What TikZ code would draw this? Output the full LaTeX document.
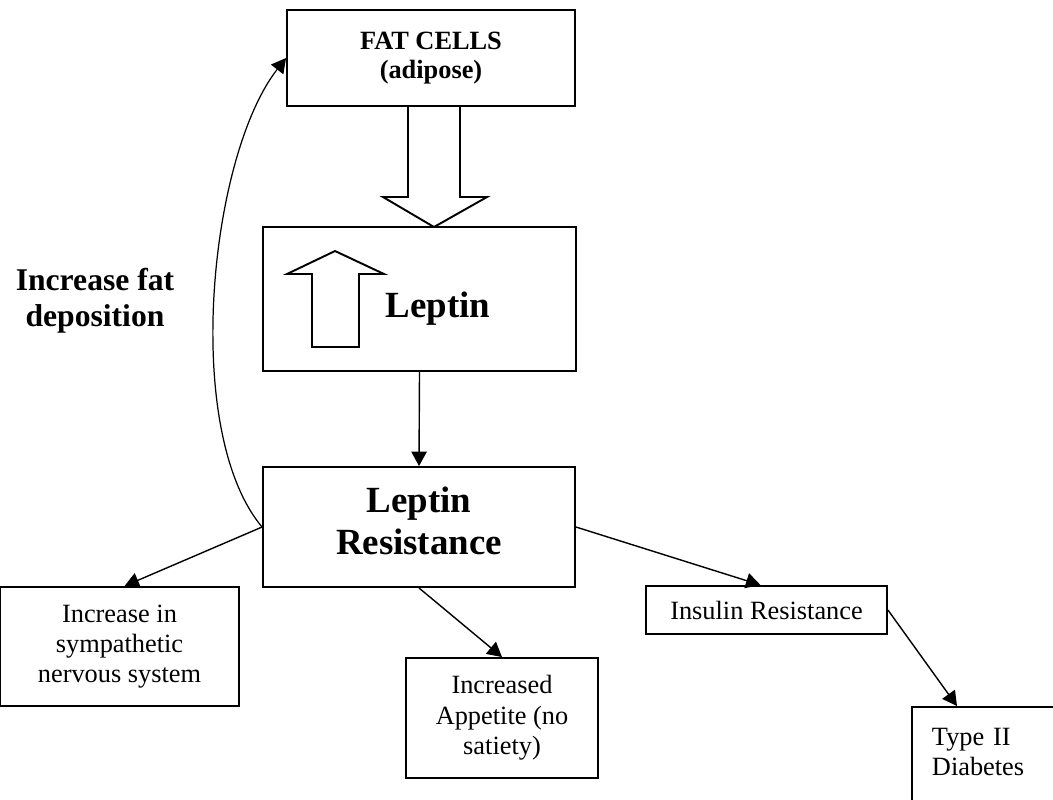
\documentclass[tikz,border=0pt]{standalone}
\usepackage{fontspec}
\setmainfont{Liberation Serif}
\usetikzlibrary{arrows.meta}
\tikzset{
  box/.style={
    rectangle,
    draw=black, line width=1.1pt,
    align=center,
    font=\fontsize{15}{17.3}\selectfont
  },
  title/.style={
    font=\bfseries\fontsize{21}{24}\selectfont
  },
}

\begin{document}
\begin{tikzpicture}[x=0.02cm,y=-0.02cm,>={Triangle[length=2.9mm,width=3.1mm]}]
  \useasboundingbox (0,0) rectangle (1053,799);

  \node[box, minimum width=5.76cm, minimum height=1.92cm,
        font=\bfseries\fontsize{15}{16.5}\selectfont] (fat) at (431,58) {FAT CELLS\\(adipose)};
  \node[box, minimum width=6.26cm, minimum height=2.88cm] (lep) at (419.5,299) {};
  \node[title, anchor=base] (leptxt) at (438,317) {Leptin};
  \node[box, title, minimum width=6.24cm, minimum height=2.4cm, text depth=7pt] (lr) at (419,527)
    {Leptin\\Resistance};

  \node[box, minimum width=4.78cm, minimum height=2.38cm] (symp) at (119.5,646.5)
    {Increase in\\sympathetic\\nervous system};
  \node[box, minimum width=3.84cm, minimum height=2.4cm] (app) at (502,718)
    {Increased\\Appetite (no\\satiety)};
  \node[box, minimum width=4.82cm, minimum height=0.96cm] (ins) at (766.5,610) {Insulin Resistance};
  \node[box, anchor=north west, align=left, text width=3cm, inner xsep=0.4cm,
        inner ysep=0.42cm, text depth=1cm] (diab) at (911,706) {Type II\\Diabetes};

  \node[font=\bfseries\fontsize{18}{20.5}\selectfont, align=center] (dep) at (95,301)
    {Increase fat\\deposition};

  % hollow arrows
  \draw[line width=1.1pt] (408,106) -- (408,197) -- (383,197) -- (434,227)
    -- (487,197) -- (460,197) -- (460,106);
  \draw[line width=1.1pt] (312,347) -- (312,274) -- (287,274) -- (335,251)
    -- (384,274) -- (359,274) -- (359,347) -- cycle;

  \path[->,line width=0.8pt]
    (lep.south) edge (lr.north)
    (lr.west) edge ([xshift=0.1cm]symp.north)
    (lr.south) edge (app.north)
    (lr.east) edge ([xshift=-0.12cm]ins.north)
    (ins.east) edge ([xshift=0.92cm]diab.north west);
  \draw[->,line width=0.7pt] (lr.west) .. controls +(130:2.5cm) and +(-128:2.5cm) .. (fat.west);
\end{tikzpicture}
\end{document}
